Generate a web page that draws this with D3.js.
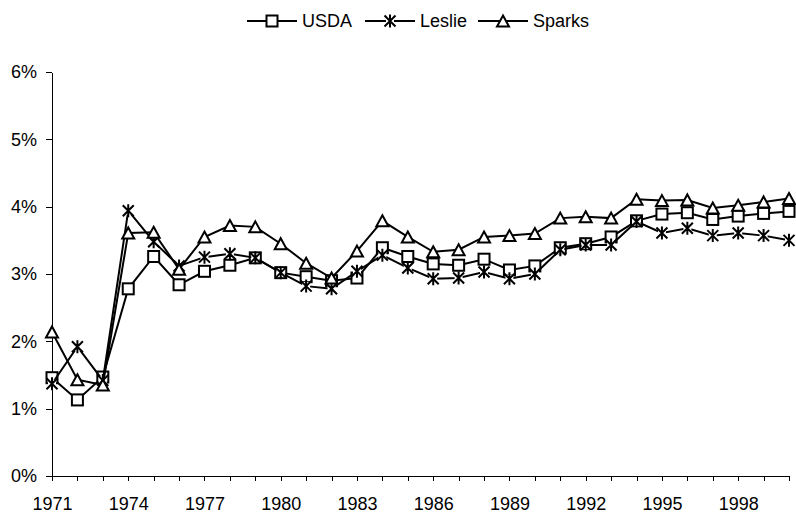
<!DOCTYPE html>
<html lang="en">
<head>
    <meta charset="UTF-8">
    <title>USDA, Leslie, Sparks</title>
    <script src="https://d3js.org/d3.v7.min.js"></script>
    <style>
        body { margin: 0; background: #fff; }
        svg text { font-family: "Liberation Sans", Arial, sans-serif; font-size: 18px; fill: #000; }
        .axis path, .axis line { stroke: #000; stroke-width: 1px; shape-rendering: crispEdges; }
    </style>
</head>
<body>
    <div id="chart"></div>
    <script>
        const years = d3.range(1971, 2001);
        const seriesNames = ["USDA", "Leslie", "Sparks"];
        const usda = [1.46, 1.13, 1.47, 2.78, 3.26, 2.84, 3.04, 3.13, 3.24, 3.02,
                      2.96, 2.90, 2.94, 3.39, 3.26, 3.15, 3.13, 3.22, 3.06, 3.12,
                      3.39, 3.45, 3.55, 3.79, 3.89, 3.91, 3.81, 3.86, 3.90, 3.93];
        const leslie = [1.37, 1.92, 1.42, 3.94, 3.48, 3.12, 3.25, 3.30, 3.24, 3.02,
                        2.82, 2.78, 3.04, 3.28, 3.09, 2.93, 2.94, 3.03, 2.93, 3.00,
                        3.36, 3.43, 3.43, 3.78, 3.61, 3.68, 3.57, 3.61, 3.57, 3.50];
        const sparks = [2.14, 1.43, 1.35, 3.61, 3.62, 3.07, 3.55, 3.72, 3.70, 3.45,
                        3.16, 2.94, 3.34, 3.79, 3.55, 3.33, 3.36, 3.55, 3.57, 3.60,
                        3.83, 3.85, 3.83, 4.11, 4.09, 4.10, 3.98, 4.02, 4.07, 4.12];
        const yTicks = [0, 1, 2, 3, 4, 5, 6];

        const W = 796, H = 513;
        const plot = {left: 52, right: 789, top: 72, bottom: 476};

        const svg = d3.select("#chart").append("svg")
            .attr("width", W)
            .attr("height", H);

        const x = d3.scaleLinear().domain([1971, 2000]).range([plot.left, plot.right]);
        const y = d3.scaleLinear().domain([0, 6]).range([plot.bottom, plot.top]);

        // axes
        svg.append("g")
            .attr("class", "axis")
            .attr("transform", `translate(0,${plot.bottom})`)
            .call(d3.axisBottom(x)
                .tickValues(years)
                .tickSize(5)
                .tickSizeOuter(0)
                .tickPadding(16)
                .tickFormat(d => (d - 1971) % 3 === 0 ? d : ""));

        svg.append("g")
            .attr("class", "axis")
            .attr("transform", `translate(${plot.left},0)`)
            .call(d3.axisLeft(y)
                .tickValues(yTicks)
                .tickSize(6)
                .tickSizeOuter(0)
                .tickPadding(9)
                .tickFormat(d => d + "%"));

        svg.selectAll(".axis").attr("font-size", null).attr("font-family", null);

        // marker drawing
        function drawMarker(g, type) {
            if (type === "USDA") {
                g.append("rect")
                    .attr("x", -5.5).attr("y", -5.5)
                    .attr("width", 11).attr("height", 11)
                    .attr("fill", "#fff").attr("stroke", "#000").attr("stroke-width", 2);
            } else if (type === "Sparks") {
                g.append("path")
                    .attr("d", "M0,-5.5L6,5.5L-6,5.5Z")
                    .attr("fill", "#fff").attr("stroke", "#000").attr("stroke-width", 2)
                    .attr("stroke-linejoin", "miter");
            } else {
                g.append("rect")
                    .attr("x", -4).attr("y", -4)
                    .attr("width", 8).attr("height", 8)
                    .attr("fill", "#fff");
                g.append("path")
                    .attr("d", "M-5.5,-5.5L5.5,5.5M5.5,-5.5L-5.5,5.5M0,-6.5L0,6.5")
                    .attr("fill", "none").attr("stroke", "#000").attr("stroke-width", 2);
            }
        }

        const data = [usda, leslie, sparks];
        const line = d3.line()
            .x((d, i) => x(years[i]))
            .y(d => y(d));

        data.forEach((vals, si) => {
            const g = svg.append("g");
            g.append("path")
                .datum(vals)
                .attr("d", line)
                .attr("fill", "none")
                .attr("stroke", "#000")
                .attr("stroke-width", 2);
            g.selectAll(".m")
                .data(vals)
                .enter().append("g")
                .attr("class", "m")
                .attr("transform", (d, i) => `translate(${x(years[i])},${y(d)})`)
                .each(function() { drawMarker(d3.select(this), seriesNames[si]); });
        });

        // legend
        const legendX = [247, 365, 478];
        const legend = svg.append("g").attr("transform", "translate(0,21)");
        seriesNames.forEach((name, i) => {
            const lg = legend.append("g").attr("transform", `translate(${legendX[i]},0)`);
            lg.append("line")
                .attr("x1", 0).attr("x2", 50)
                .attr("y1", 0).attr("y2", 0)
                .attr("stroke", "#000").attr("stroke-width", 2);
            const mg = lg.append("g").attr("transform", "translate(25,0)");
            drawMarker(mg, name);
            lg.append("text")
                .attr("x", 55)
                .attr("dy", "0.35em")
                .text(name);
        });
    </script>
</body>
</html>
